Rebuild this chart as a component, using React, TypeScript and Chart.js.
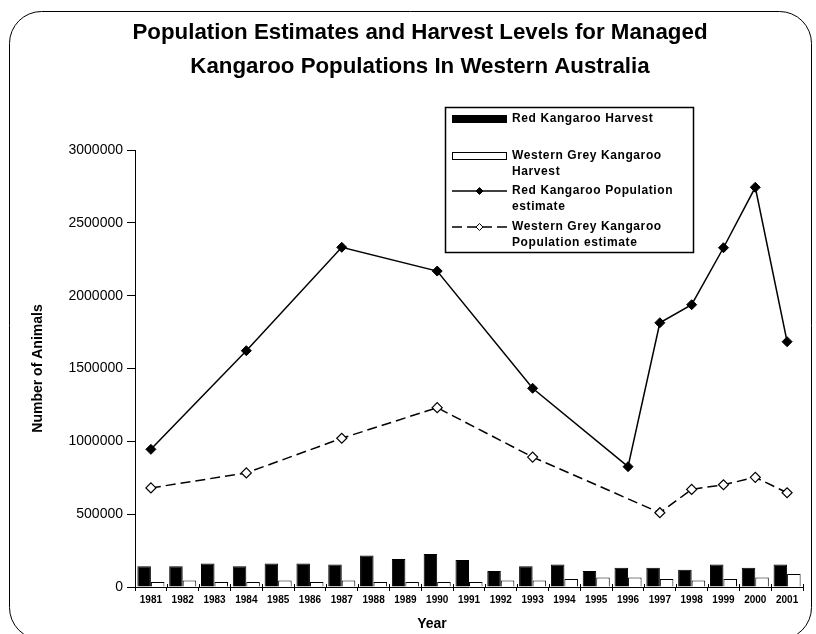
import React, { useEffect, useRef } from 'react';
import { Chart, registerables } from 'chart.js';

Chart.register(...registerables);

const years = ['1981', '1982', '1983', '1984', '1985', '1986', '1987', '1988', '1989', '1990', '1991', '1992', '1993', '1994', '1995', '1996', '1997', '1998', '1999', '2000', '2001'];
const redHarvest = [143000, 143000, 161000, 143000, 161000, 161000, 154000, 216000, 192000, 226000, 185000, 110000, 143000, 154000, 110000, 132000, 132000, 119000, 154000, 132000, 154000];
const greyHarvest = [35000, 44000, 35000, 35000, 44000, 35000, 44000, 35000, 35000, 35000, 35000, 44000, 44000, 55000, 65000, 65000, 55000, 44000, 55000, 65000, 89000];
const redPopulation = [945000, null, null, 1622000, null, null, 2332000, null, null, 2169000, null, null, 1364000, null, null, 826000, 1814000, 1938000, 2329000, 2744000, 1684000];
const greyPopulation = [680000, null, null, 783000, null, null, 1021000, null, null, 1231000, null, null, 892000, null, null, null, 510000, 670000, 702000, 753000, 647000];

const legendLabels = [
  ['Red Kangaroo Harvest'],
  ['Western Grey Kangaroo', 'Harvest'],
  ['Red Kangaroo Population', 'estimate'],
  ['Western Grey Kangaroo', 'Population estimate'],
];
const titleLines = ['Population Estimates and Harvest Levels for Managed', 'Kangaroo Populations In Western Australia'];
const yTitle = 'Number of Animals';
const xTitle = 'Year';

const FONT = '"Liberation Sans", Arial, sans-serif';

function diamond(ctx: CanvasRenderingContext2D, x: number, y: number, r: number, fill: string) {
  ctx.beginPath();
  ctx.moveTo(x - r, y);
  ctx.lineTo(x, y - r);
  ctx.lineTo(x + r, y);
  ctx.lineTo(x, y + r);
  ctx.closePath();
  ctx.fillStyle = fill;
  ctx.fill();
  ctx.lineWidth = 1;
  ctx.strokeStyle = '#000';
  ctx.stroke();
}

const decor = {
  id: 'decor',
  beforeDraw(chart: any) {
    const ctx = chart.ctx as CanvasRenderingContext2D;
    ctx.save();
    ctx.fillStyle = '#fff';
    ctx.fillRect(0, 0, chart.width, chart.height);
    ctx.strokeStyle = '#000';
    ctx.lineWidth = 1;
    ctx.beginPath();
    (ctx as any).roundRect(9.5, 11.5, 802, 628, 32);
    ctx.stroke();
    ctx.restore();
  },
  afterDraw(chart: any) {
    const ctx = chart.ctx as CanvasRenderingContext2D;
    const area = chart.chartArea;
    const xs = chart.scales.x;
    ctx.save();
    // chart title
    ctx.fillStyle = '#000';
    ctx.textAlign = 'center';
    ctx.textBaseline = 'middle';
    ctx.font = `bold 22px ${FONT}`;
    const w0 = ctx.measureText(titleLines[0]).width;
    const sx = 575 / w0;
    titleLines.forEach((t, i) => {
      ctx.save();
      ctx.translate(420, 33 + i * 34);
      ctx.scale(sx, 1);
      ctx.fillText(t, 0, 0);
      ctx.restore();
    });
    // axis titles
    ctx.font = `bold 14px ${FONT}`;
    ctx.save();
    ctx.translate(38, (area.top + area.bottom) / 2);
    ctx.rotate(-Math.PI / 2);
    ctx.fillText(yTitle, 0, 0);
    ctx.restore();
    ctx.fillText(xTitle, 432, 624);
    // small tick marks above x axis at category boundaries
    const half = (xs.getPixelForValue(1) - xs.getPixelForValue(0)) / 2;
    ctx.strokeStyle = '#000';
    ctx.lineWidth = 1;
    for (let i = 0; i <= years.length; i++) {
      const px = Math.round(xs.getPixelForValue(i) - half) + 0.5;
      ctx.beginPath();
      ctx.moveTo(px, area.bottom - 3);
      ctx.lineTo(px, area.bottom);
      ctx.stroke();
    }
    // legend
    const bx = 445, by = 107, bw = 248, bh = 145;
    ctx.fillStyle = '#fff';
    ctx.fillRect(bx, by, bw, bh);
    ctx.lineWidth = 1.5;
    ctx.strokeStyle = '#000';
    ctx.strokeRect(bx + 0.5, by + 0.5, bw, bh);
    const rowY = [119, 156, 191, 227];
    const symL = 452, symR = 507, textX = 512;
    ctx.textAlign = 'left';
    ctx.font = `bold 12px ${FONT}`;
    (ctx as any).letterSpacing = '0.6px';
    chart.data.datasets.forEach((ds: any, i: number) => {
      const y = rowY[i];
      ctx.save();
      if (ds.type === 'bar' || !ds.type) {
        ctx.fillStyle = ds.backgroundColor;
        ctx.fillRect(symL, y - 4, symR - symL, 8);
        ctx.lineWidth = 1;
        ctx.strokeStyle = '#000';
        ctx.strokeRect(symL + 0.5, y - 3.5, symR - symL - 1, 7);
      } else {
        ctx.strokeStyle = '#000';
        ctx.lineWidth = 1.5;
        ctx.setLineDash(ds.borderDash || []);
        ctx.beginPath();
        ctx.moveTo(symL, y);
        ctx.lineTo(symR, y);
        ctx.stroke();
        ctx.setLineDash([]);
        diamond(ctx, (symL + symR) / 2, y, 3.5, ds.pointBackgroundColor);
      }
      ctx.restore();
      ctx.fillStyle = '#000';
      legendLabels[i].forEach((line, j) => {
        ctx.fillText(line, textX, y + j * 15.5);
      });
    });
    (ctx as any).letterSpacing = '0px';
    ctx.restore();
  },
};

export default function App() {
  const ref = useRef<HTMLCanvasElement>(null);
  useEffect(() => {
    if (!ref.current) return;
    Chart.defaults.font.family = FONT;
    Chart.defaults.color = '#000';
    const chart = new Chart(ref.current, {
      type: 'bar',
      data: {
        labels: years,
        datasets: [
          {
            type: 'bar',
            label: legendLabels[0].join(' '),
            data: redHarvest,
            backgroundColor: '#000',
            borderColor: '#000',
            borderWidth: 1,
            order: 3,
          },
          {
            type: 'bar',
            label: legendLabels[1].join(' '),
            data: greyHarvest,
            backgroundColor: '#fff',
            borderColor: '#000',
            borderWidth: 1,
            order: 3,
          },
          {
            type: 'line',
            label: legendLabels[2].join(' '),
            data: redPopulation,
            borderColor: '#000',
            borderWidth: 1.5,
            pointStyle: 'rectRot',
            pointRadius: 5,
            pointBackgroundColor: '#000',
            pointBorderColor: '#000',
            pointBorderWidth: 1,
            spanGaps: true,
            tension: 0,
            order: 1,
          },
          {
            type: 'line',
            label: legendLabels[3].join(' '),
            data: greyPopulation,
            borderColor: '#000',
            borderWidth: 1.5,
            borderDash: [10, 5],
            pointStyle: 'rectRot',
            pointRadius: 5,
            pointBackgroundColor: '#fff',
            pointBorderColor: '#000',
            pointBorderWidth: 1.2,
            spanGaps: true,
            tension: 0,
            order: 2,
          },
        ] as any,
      },
      options: {
        animation: false,
        responsive: false,
        maintainAspectRatio: false,
        layout: { padding: { top: 150, left: 0, right: 13, bottom: 0 } },
        plugins: {
          legend: { display: false },
          title: { display: false },
          tooltip: { enabled: false },
        },
        datasets: {
          bar: { categoryPercentage: 0.85, barPercentage: 1.0 },
        },
        scales: {
          x: {
            offset: true,
            grid: { display: true, drawOnChartArea: false, drawTicks: true, tickLength: 4, color: '#000', offset: true },
            border: { display: true, color: '#000', width: 1 },
            ticks: { font: { size: 10, weight: 'bold' }, color: '#000', padding: 3, maxRotation: 0, autoSkip: false },
            afterFit: (s: any) => { s.height = 47; },
          },
          y: {
            min: 0,
            max: 3000000,
            grid: { drawOnChartArea: false, drawTicks: true, tickLength: 8, color: '#000' },
            border: { display: true, color: '#000', width: 1 },
            ticks: { stepSize: 500000, font: { size: 14 }, color: '#000', padding: 4, callback: (v: any) => String(v) },
            afterFit: (s: any) => { s.width = 135; },
          },
        },
      } as any,
      plugins: [decor],
    });
    return () => chart.destroy();
  }, []);
  return (
    <div style={{ position: 'absolute', left: 0, top: 0, width: 816, height: 634, overflow: 'hidden' }}>
      <canvas ref={ref} width={816} height={634} style={{ width: 816, height: 634, display: 'block' }} />
    </div>
  );
}
